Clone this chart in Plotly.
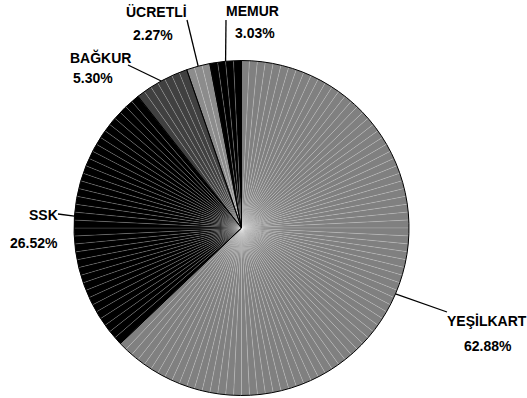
import math
import plotly.graph_objects as go

# ---- data ----
categories = ["YEŞİLKART", "SSK", "BAĞKUR", "ÜCRETLİ", "MEMUR"]
counts = [83, 35, 7, 3, 4]
colors = ["#808080", "#000000", "#404040", "#8c8c8c", "#000000"]

W, H = 527, 398
CX, CY, R = 241.5, 228, 167.5  # pie centre / radius in pixels

total = sum(counts)
pcts = [c / total * 100 for c in counts]

# expand: every record becomes its own thin slice (as in the original)
sub_vals, sub_cols, sub_lbls = [], [], []
for cat, n, col in zip(categories, counts, colors):
    for i in range(n):
        sub_vals.append(1)
        sub_cols.append(col)
        sub_lbls.append(f"{cat} {i+1}")

dom_x = [(CX - R) / W, (CX + R) / W]
dom_y = [1 - (CY + R) / H, 1 - (CY - R) / H]

fig = go.Figure()
fig.add_trace(go.Pie(
    labels=sub_lbls, values=sub_vals, sort=False, direction="clockwise",
    rotation=0, marker=dict(colors=sub_cols,
                            line=dict(color="rgba(255,255,255,0.3)", width=0.5)),
    textinfo="none", hoverinfo="skip", showlegend=False,
    domain=dict(x=dom_x, y=dom_y),
))
fig.add_trace(go.Pie(
    labels=categories, values=counts, sort=False, direction="clockwise",
    rotation=0, marker=dict(colors=["rgba(0,0,0,0)"] * len(categories),
                            line=dict(color="#000000", width=1)),
    textinfo="none", showlegend=False,
    domain=dict(x=dom_x, y=dom_y),
))

# label positions (pixels): name centre, percent centre, leader-line start
label_pos = {
    "YEŞİLKART": ((487, 321), (488, 346), (447, 312)),
    "SSK": ((43, 215), (34, 243), (58, 214)),
    "BAĞKUR": ((100, 57), (93, 78), (128, 65)),
    "ÜCRETLİ": ((156, 12), (153, 35), (187, 20)),
    "MEMUR": ((252, 11), (255, 33), (226, 20)),
}

def px(x, y):
    return x / W, 1 - y / H

font = dict(family="Liberation Sans, Arial, sans-serif", size=14, color="#000000")
cum = 0
shapes, annotations = [], []
for cat, n, p in zip(categories, counts, pcts):
    mid = (cum + n / 2) / total * 2 * math.pi
    cum += n
    ex = CX + R * math.sin(mid)
    ey = CY - R * math.cos(mid)
    (nx, ny), (qx, qy), (lx, ly) = label_pos[cat]
    x0, y0 = px(lx, ly)
    x1, y1 = px(ex, ey)
    shapes.append(dict(type="line", xref="paper", yref="paper",
                       x0=x0, y0=y0, x1=x1, y1=y1,
                       line=dict(color="#000000", width=1.3)))
    ax_, ay_ = px(nx, ny)
    annotations.append(dict(text=f"<b>{cat}</b>", x=ax_, y=ay_, xref="paper", yref="paper",
                            showarrow=False, xanchor="center", yanchor="middle", font=font))
    bx_, by_ = px(qx, qy)
    annotations.append(dict(text=f"<b>{p:.2f}%</b>", x=bx_, y=by_, xref="paper", yref="paper",
                            showarrow=False, xanchor="center", yanchor="middle", font=font))

fig.update_layout(
    width=W, height=H, margin=dict(l=0, r=0, t=0, b=0),
    paper_bgcolor="white", plot_bgcolor="white",
    shapes=shapes, annotations=annotations,
)
fig.write_html("out.html")
